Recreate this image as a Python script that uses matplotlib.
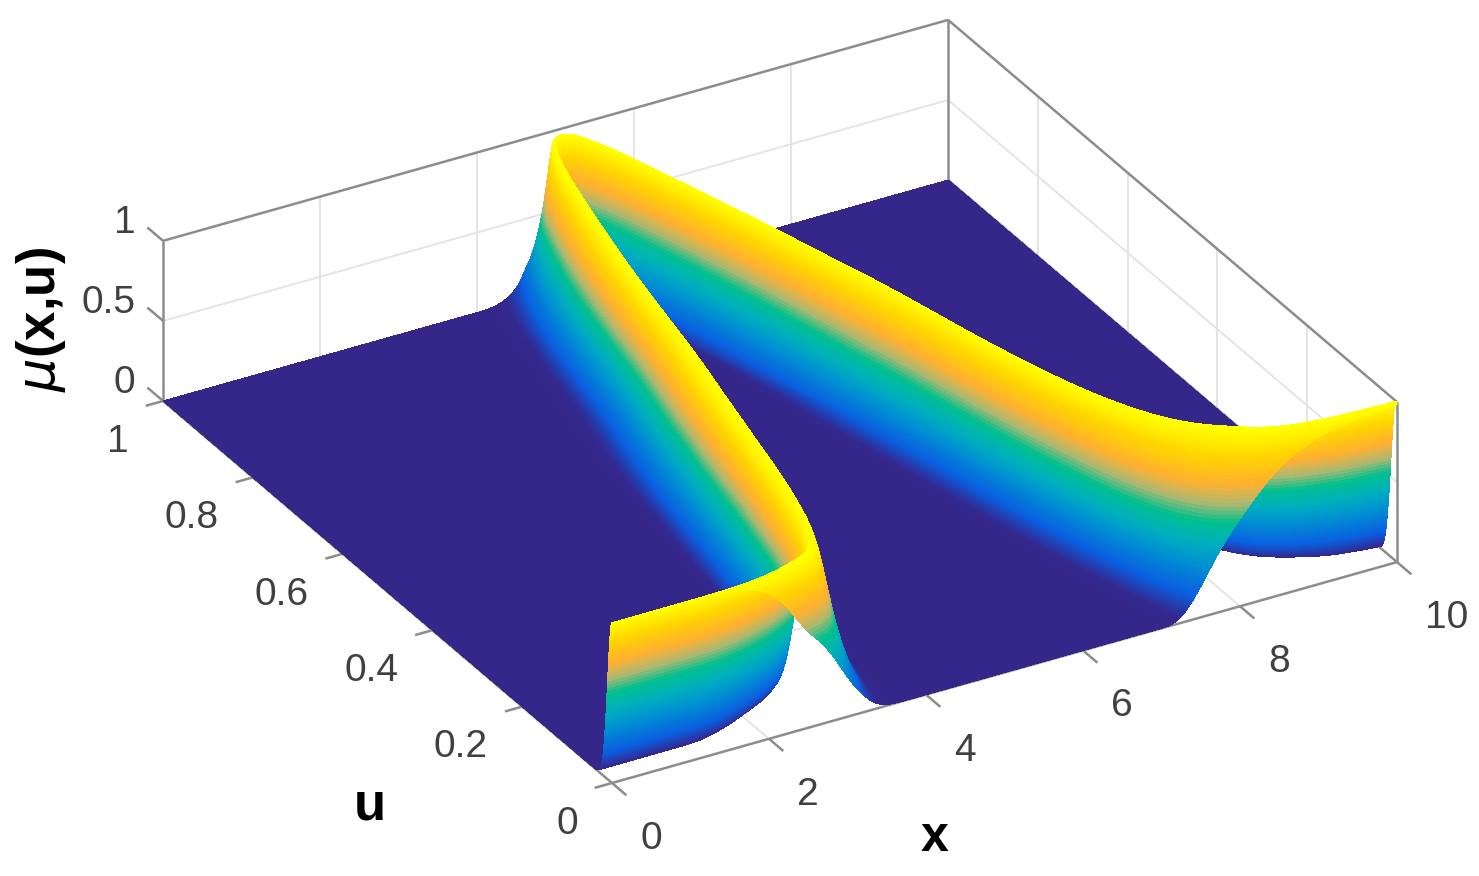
import numpy as np
import matplotlib
matplotlib.use("Agg")
import matplotlib.pyplot as plt
from matplotlib.colors import LinearSegmentedColormap
from mpl_toolkits.mplot3d import proj3d

plt.rcParams["font.family"] = ["Liberation Sans", "DejaVu Sans"]

# values: ridge position and spread of mu along x
anchor_x = [0, 1.27, 2, 2.4, 2.75, 3.02, 3.31, 3.57, 3.86, 4.09, 4.43, 4.75, 5,
            5.25, 5.51, 5.78, 6.02, 6.47, 6.87, 7.31, 7.71, 8.18, 8.68, 9.43, 10]
ridge_u = [1e-4, 1e-3, 0.008, 0.02, 0.035, 0.103, 0.227, 0.368, 0.508, 0.66, 0.83, 0.965, 1.0,
           0.965, 0.872, 0.771, 0.679, 0.496, 0.298, 0.153, 0.08, 0.04, 0.014, 0.004, 0.002]
spread_u = [0.014, 0.014, 0.025, 0.03, 0.04, 0.085, 0.135, 0.15, 0.14, 0.14, 0.11, 0.055, 0.01,
            0.01, 0.016, 0.03, 0.052, 0.085, 0.085, 0.095, 0.08, 0.06, 0.035, 0.02, 0.016]

x_ticks = [0, 2, 4, 6, 8, 10]
u_ticks = [0, 0.2, 0.4, 0.6, 0.8, 1]
z_ticks = [0, 0.5, 1]
x_tick_labels = ["0", "2", "4", "6", "8", "10"]
u_tick_labels = ["0", "0.2", "0.4", "0.6", "0.8", "1"]
z_tick_labels = ["0", "0.5", "1"]

parula_like = LinearSegmentedColormap.from_list("parula_like", [
    (0.0, "#35278a"), (0.03, "#33288f"), (0.14, "#0a5fe0"), (0.3, "#0090d2"),
    (0.42, "#00b0bc"), (0.53, "#00c08e"), (0.63, "#b0b870"), (0.73, "#ffb030"),
    (0.87, "#ffd400"), (1.0, "#ffff00"),
], N=512)

W, H = 1479, 876
EDGE = "#8c8c8c"
GRID = "#e4e4e4"
TEXT = "#404040"


def smooth_log(grid, values, half=8):
    y = np.interp(grid, anchor_x, np.log(values))
    y = np.pad(y, half, mode="edge")
    y = np.convolve(y, np.ones(2 * half + 1) / (2 * half + 1), mode="valid")
    return np.minimum(np.exp(y), 1.0)


def build_mesh():
    xs = np.linspace(0, 10, 500)
    f = smooth_log(xs, ridge_u)
    w = smooth_log(xs, spread_u)
    s = np.linspace(-3, 3, 241)
    us = []
    for fi, wi in zip(f, w):
        lo = max(0.0, fi - 3 * wi)
        hi = min(1.0, fi + 3 * wi)
        us.append(np.concatenate([
            np.linspace(0, lo, 8, endpoint=False),
            np.clip(fi + wi * s, 0, 1),
            np.linspace(hi, 1, 9)[1:],
        ]))
    U = np.array(us)
    X = np.repeat(xs[:, None], U.shape[1], axis=1)
    Z = np.exp(-((U - f[:, None]) / w[:, None]) ** 2)
    return X, U, Z


def to_px(ax, x, u, z):
    px, py, _ = proj3d.proj_transform(x, u, z, ax.get_proj())
    return ax.transData.transform((px, py))


fig = plt.figure(figsize=(W / 100, H / 100), dpi=100)
side = 1900
ax = fig.add_axes([(W - side) / 2 / W, (H - side) / 2 / H, side / W, side / H],
                  projection="3d", proj_type="ortho", computed_zorder=False)
ax.view_init(elev=29.3, azim=-119.9)
ax.set_xlim(0, 10, view_margin=0)
ax.set_ylim(0, 1, view_margin=0)
ax.set_zlim(0, 1, view_margin=0)
ax.set_box_aspect((905, 900, 183.5), zoom=1)
ax.set_axis_off()
ax.patch.set_visible(False)

# fit scale and place the box on the reference corner
fig.canvas.draw()
span = np.linalg.norm(to_px(ax, 10, 0, 0) - to_px(ax, 0, 0, 0))
ax.set_box_aspect((905, 900, 183.5), zoom=815.5 / span)
fig.canvas.draw()
corner = to_px(ax, 0, 0, 0)
pos = ax.get_position(original=True)
ax.set_position([pos.x0 + (612 - corner[0]) / W, pos.y0 + (H - 783 - corner[1]) / H,
                 pos.width, pos.height])
fig.canvas.draw()


def line(xs, us, zs, color=EDGE, lw=1.8, zorder=1):
    ax.plot(xs, us, zs, color=color, lw=lw, zorder=zorder, solid_capstyle="butt")


def label(x, u, z, text, ha):
    px, py = to_px(ax, x, u, z)
    fig.text(px / W, py / H, text, fontsize=28, color=TEXT, ha=ha, va="center")


# grid on walls and floor
for xt in x_ticks[1:-1]:
    line([xt, xt], [1, 1], [0, 1], GRID, 1.4)
    line([xt, xt], [0, 1], [0, 0], GRID, 1.4)
for ut in u_ticks[1:-1]:
    line([10, 10], [ut, ut], [0, 1], GRID, 1.4)
    line([0, 10], [ut, ut], [0, 0], GRID, 1.4)
line([0, 10], [1, 1], [0.5, 0.5], GRID, 1.4)
line([10, 10], [0, 1], [0.5, 0.5], GRID, 1.4)

# box edges
line([0, 10], [1, 1], [1, 1])
line([10, 10], [1, 0], [1, 1])
line([0, 0], [1, 1], [0, 1])
line([10, 10], [1, 1], [0, 1])
line([10, 10], [0, 0], [0, 1])
line([0, 10], [0, 0], [0, 0])
line([0, 0], [0, 1], [0, 0])
line([10, 10], [0, 1], [0, 0])

# ticks and tick labels
for xt, lab in zip(x_ticks, x_tick_labels):
    line([xt, xt], [0, -0.032], [0, 0])
    label(xt - 0.361, -0.1256, 0, lab, "left")
for ut, lab in zip(u_ticks, u_tick_labels):
    line([0, -0.22], [ut, ut], [0, 0])
    label(-0.786, ut - 0.0615, 0, lab, "right")
for zt, lab in zip(z_ticks, z_tick_labels):
    line([0, 0], [1, 1.035], [zt, zt])
    label(-0.066, 1.05, zt, lab, "right")

X, U, Z = build_mesh()
ax.plot_surface(X, U, Z, rstride=1, cstride=1, cmap=parula_like, vmin=0, vmax=1,
                shade=False, linewidth=0, antialiased=False, zorder=2)

fig.text(370 / W, 1 - 806 / H, "u", fontsize=38, fontweight="bold", ha="center", va="center")
fig.text(935 / W, 1 - 838 / H, "x", fontsize=36, fontweight="bold", ha="center", va="center")
fig.text(41 / W, 1 - 320 / H, r"$\mu$(x,u)", fontsize=38, fontweight="bold",
         rotation=90, ha="center", va="center")

fig.savefig("out.png", dpi=100)
